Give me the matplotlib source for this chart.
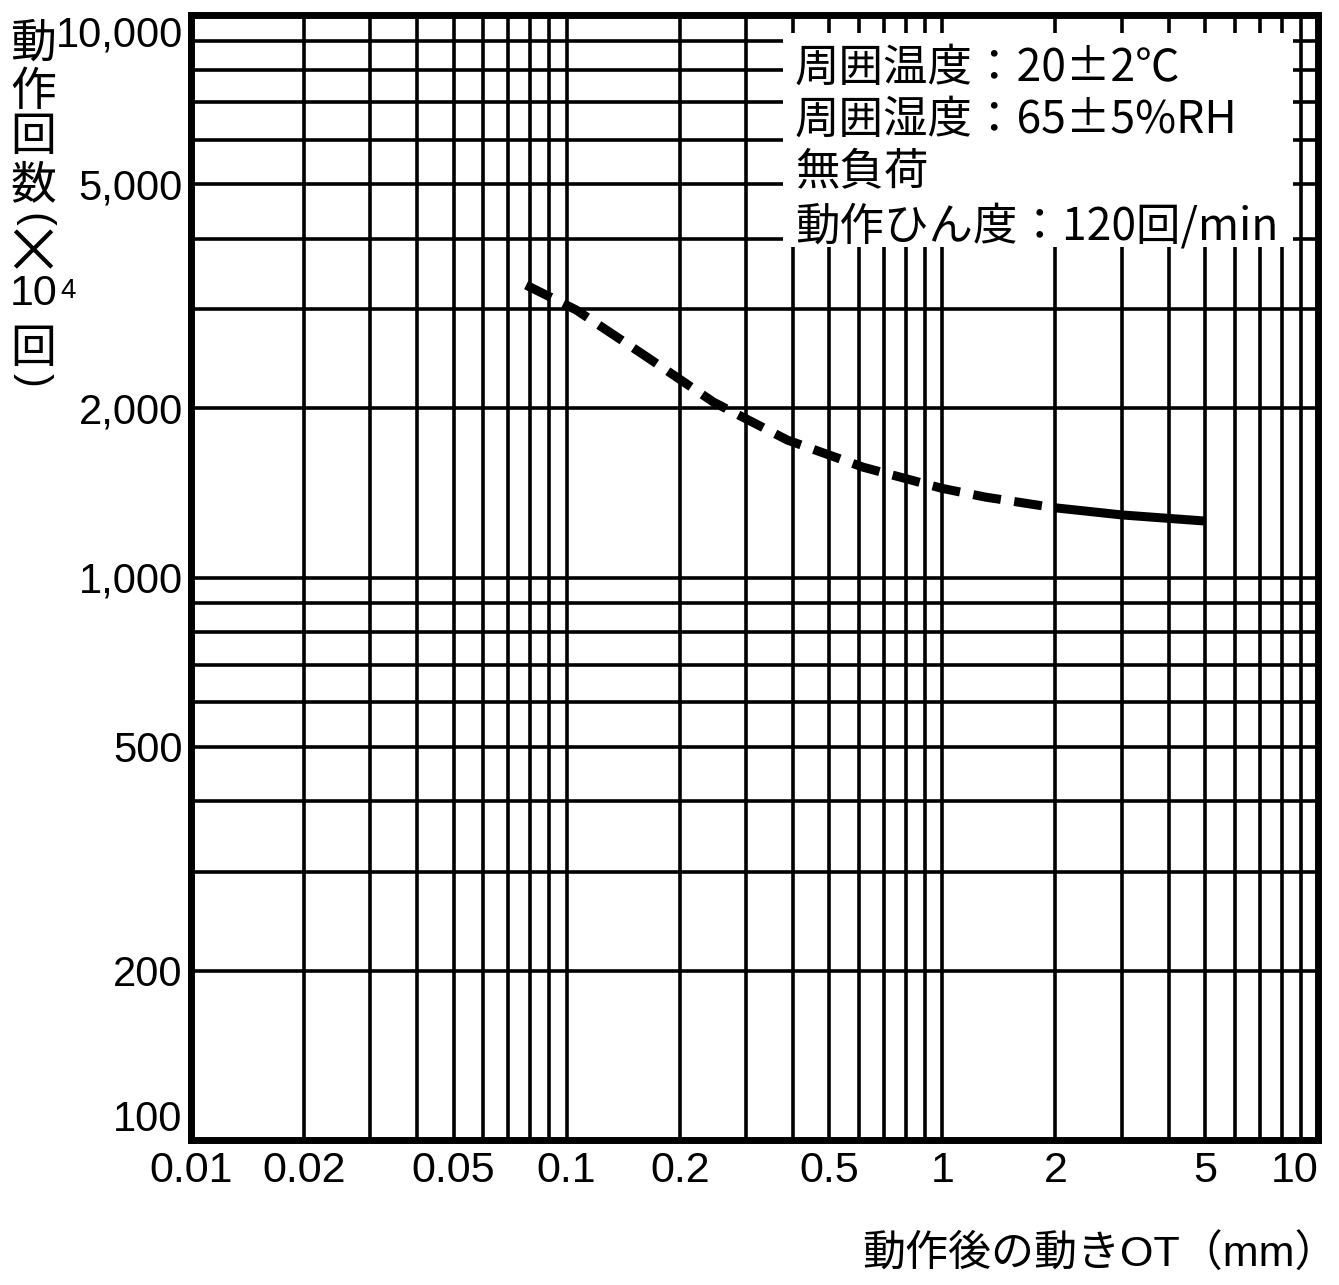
import matplotlib
matplotlib.use("Agg")
import matplotlib.pyplot as plt
from matplotlib.patches import Rectangle
from matplotlib.ticker import FixedLocator, FixedFormatter, NullFormatter

# ---- data ----
dash_x = [0.078, 0.106, 0.16, 0.246, 0.387, 0.617, 1.0, 1.3, 2.0]
dash_y = [3310, 2990, 2490, 2050, 1755, 1570, 1440, 1390, 1330]
solid_x = [2.0, 3.0, 5.0]
solid_y = [1330, 1292, 1260]

x_ticks = [0.01, 0.02, 0.05, 0.1, 0.2, 0.5, 1, 2, 5, 10]
x_labels = ["0.01", "0.02", "0.05", "0.1", "0.2", "0.5", "1", "2", "5", "10"]
y_ticks = [100, 200, 500, 1000, 2000, 5000, 10000]
y_labels = ["100", "200", "500", "1,000", "2,000", "5,000", "10,000"]

notes = ["周囲温度：20±2℃", "周囲湿度：65±5%RH", "無負荷", "動作ひん度：120回/min"]
x_title = "動作後の動きOT（mm）"
y_title_chars = ["動", "作", "回", "数"]

FAM = ["Liberation Sans", "Noto Sans CJK JP", "DejaVu Sans"]
CJK = ["Noto Sans CJK JP", "DejaVu Sans"]
plt.rcParams["font.family"] = FAM

W, H = 1339, 1285
fig = plt.figure(figsize=(W / 100, H / 100), dpi=100)
L, R, T, B = 191, 1318, 15, 1140
ax = fig.add_axes([L / W, 1 - B / H, (R - L) / W, (B - T) / H])
ax.set_xscale("log")
ax.set_yscale("log")
ax.set_xlim(0.01, 10)
ax.set_ylim(100, 10000)

# grid lines at every major and minor position
ax.grid(True, which="both", color="black", linewidth=2.6)
ax.set_axisbelow(True)
for s in ax.spines.values():
    s.set_linewidth(5)
    s.set_zorder(5)

ax.xaxis.set_major_locator(FixedLocator(x_ticks))
ax.xaxis.set_major_formatter(FixedFormatter(x_labels))
ax.xaxis.set_minor_formatter(NullFormatter())
ax.yaxis.set_major_locator(FixedLocator(y_ticks))
ax.yaxis.set_major_formatter(FixedFormatter(y_labels))
ax.yaxis.set_minor_formatter(NullFormatter())
ax.tick_params(which="both", length=0)
ax.tick_params(axis="x", pad=8, labelsize=31)
ax.tick_params(axis="y", pad=6, labelsize=30)

fig.canvas.draw()
ylabs = ax.get_yticklabels()
ylabs[0].set_verticalalignment("bottom")
ylabs[-1].set_verticalalignment("top")
xlabs = ax.get_xticklabels()
xlabs[-1].set_horizontalalignment("right")

# curve
ax.plot(dash_x, dash_y, color="black", linewidth=6.5, linestyle=(0, (3.1, 1.5)),
        dash_capstyle="butt", zorder=4)
ax.plot(solid_x, solid_y, color="black", linewidth=6.5, solid_capstyle="butt", zorder=4)

# annotation box
bx0 = (783 - L) / (R - L)
bx1 = (1293 - L) / (R - L)
by1 = 1 - (33 - T) / (B - T)
by0 = 1 - (247 - T) / (B - T)
ax.add_patch(Rectangle((bx0, by0), bx1 - bx0, by1 - by0, transform=ax.transAxes,
                       facecolor="white", edgecolor="none", zorder=3))
for i, s in enumerate(notes):
    yc = [68, 120, 172, 226][i]
    ax.text((795 - L) / (R - L), 1 - (yc - T) / (B - T), s, transform=ax.transAxes,
            fontsize=32, va="center", ha="left", zorder=6, family=CJK)

# x title
fig.text(1338 / W, 1 - 1255 / H, x_title, fontsize=31, ha="right", va="center", family=FAM)

# y title (stacked vertical)
cx = 33 / W
for ch, yc in zip(y_title_chars, [43, 92, 137, 185]):
    fig.text(cx, 1 - yc / H, ch, fontsize=33, ha="center", va="center", family=CJK)
fig.text(cx, 1 - 220 / H, "(", fontsize=30, ha="center", va="center", rotation=-90,
         rotation_mode="anchor", family=["Liberation Sans"])
fig.text(cx, 1 - 255 / H, "×", fontsize=44, ha="center", va="center", family=CJK)
fig.text(10 / W, 1 - 294 / H, "10", fontsize=31, ha="left", va="center",
         family=["Liberation Sans"])
fig.text(60 / W, 1 - 278 / H, "4", fontsize=20, ha="left", va="top",
         family=["Liberation Sans"])
fig.text(cx, 1 - 349 / H, "回", fontsize=33, ha="center", va="center", family=CJK)
fig.text(cx, 1 - 380 / H, ")", fontsize=30, ha="center", va="center", rotation=-90,
         rotation_mode="anchor", family=["Liberation Sans"])

fig.savefig("out.png", dpi=100, facecolor="white")
